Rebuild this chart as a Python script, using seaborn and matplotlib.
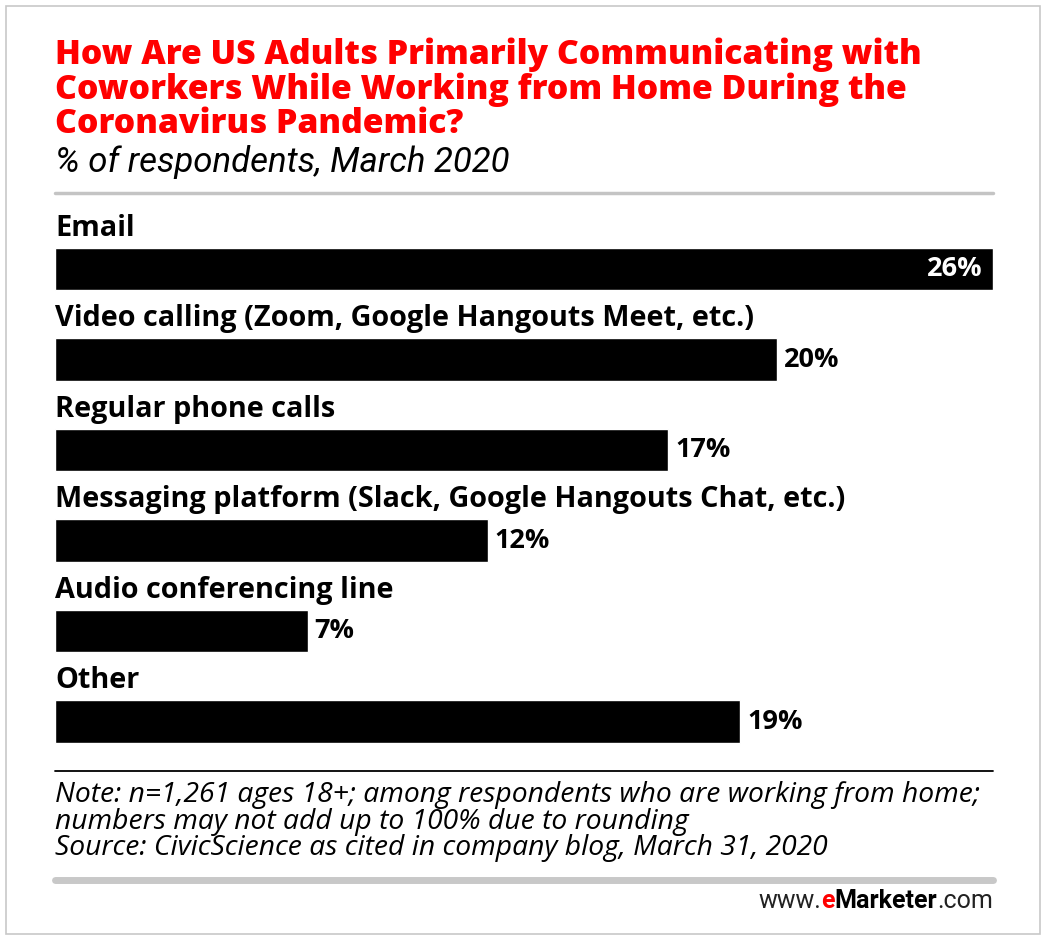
import matplotlib
matplotlib.use("Agg")
import matplotlib.pyplot as plt
import pandas as pd
import seaborn as sns

categories = [
    "Email",
    "Video calling (Zoom, Google Hangouts Meet, etc.)",
    "Regular phone calls",
    "Messaging platform (Slack, Google Hangouts Chat, etc.)",
    "Audio conferencing line",
    "Other",
]
shares = [26, 20, 17, 12, 7, 19]

title = ("How Are US Adults Primarily Communicating with\n"
         "Coworkers While Working from Home During the\n"
         "Coronavirus Pandemic?")
subtitle = "% of respondents, March 2020"
note_lines = [
    "Note: n=1,261 ages 18+; among respondents who are working from home;",
    "numbers may not add up to 100% due to rounding",
    "Source: CivicScience as cited in company blog, March 31, 2020",
]

W, H = 1046, 938
RED = "#ff0000"

sns.set_theme(style="white")
plt.rcParams["font.family"] = ["Open Sans", "DejaVu Sans"]

df = pd.DataFrame({"category": categories, "share": shares})

fig = plt.figure(figsize=(W / 100, H / 100), dpi=100)
fig.patch.set_facecolor("white")


def fx(px):
    return px / W


def fy(py):
    return 1 - py / H


# outer frame
fig.add_artist(plt.Rectangle((fx(6), fy(934)), fx(1034), 928 / H, transform=fig.transFigure,
                             fill=False, edgecolor="#c8c8c8", linewidth=1.2))

# headline
fig.text(fx(55), fy(38), title, color=RED, fontsize=24.3, fontweight="heavy",
         va="top", ha="left", linespacing=1.0)
fig.text(fx(55), fy(162), subtitle, color="black", fontsize=25, style="italic",
         va="center", ha="left", family=["Roboto", "DejaVu Sans"])
fig.add_artist(plt.Line2D([fx(55), fx(993)], [fy(193), fy(193)], transform=fig.transFigure,
                          color="#c4c4c4", linewidth=2.5))

# bar area
top_px, bot_px = 200, 760
ax = fig.add_axes([fx(55), fy(bot_px), fx(938), (bot_px - top_px) / H])
sns.barplot(data=df, x="share", y="category", orient="h", color="black",
            width=0.47, saturation=1, ax=ax)
ax.set_xlim(0, 26)
ax.set_ylim((bot_px - 269) / 90.5, (top_px - 269) / 90.5)
ax.axis("off")

for i, (name, val) in enumerate(zip(categories, shares)):
    ax.text(0, i - 0.45, name, fontsize=20.8, fontweight="bold", color="black",
            ha="left", va="center")
    if val == max(shares):
        ax.annotate(f"{val}%", xy=(val, i), xytext=(-10, 0), textcoords="offset pixels",
                    ha="right", va="center", color="white", fontsize=19.5, fontweight="bold")
    else:
        ax.annotate(f"{val}%", xy=(val, i), xytext=(7, 0), textcoords="offset pixels",
                    ha="left", va="center", color="black", fontsize=19.5, fontweight="bold")

# notes
fig.add_artist(plt.Line2D([fx(55), fx(993)], [fy(771), fy(771)], transform=fig.transFigure,
                          color="black", linewidth=1.3))
for k, line in enumerate(note_lines):
    fig.text(fx(55), fy(795 + 26.5 * k), line, fontsize=20.3, style="italic",
             color="black", ha="left", va="center")
fig.add_artist(plt.Line2D([fx(55), fx(993)], [fy(880), fy(880)], transform=fig.transFigure,
                          color="#c8c8c8", linewidth=5))

# footer logo text, built right to left
logo_kw = dict(fontsize=18, va="bottom", family=["Roboto", "DejaVu Sans"])
t_com = fig.text(fx(993), fy(913), ".com", ha="right", color="#222222", **logo_kw)
t_mk = ax.annotate("Marketer", xy=(0, 0), xycoords=t_com, ha="right", color="black",
                   fontweight="bold", annotation_clip=False, **logo_kw)
t_e = ax.annotate("e", xy=(0, 0), xycoords=t_mk, ha="right", color=RED,
                  fontweight="bold", annotation_clip=False, **logo_kw)
ax.annotate("www.", xy=(0, 0), xycoords=t_e, ha="right", color="#222222",
            annotation_clip=False, **logo_kw)

fig.savefig("out.png", dpi=100, facecolor="white")
